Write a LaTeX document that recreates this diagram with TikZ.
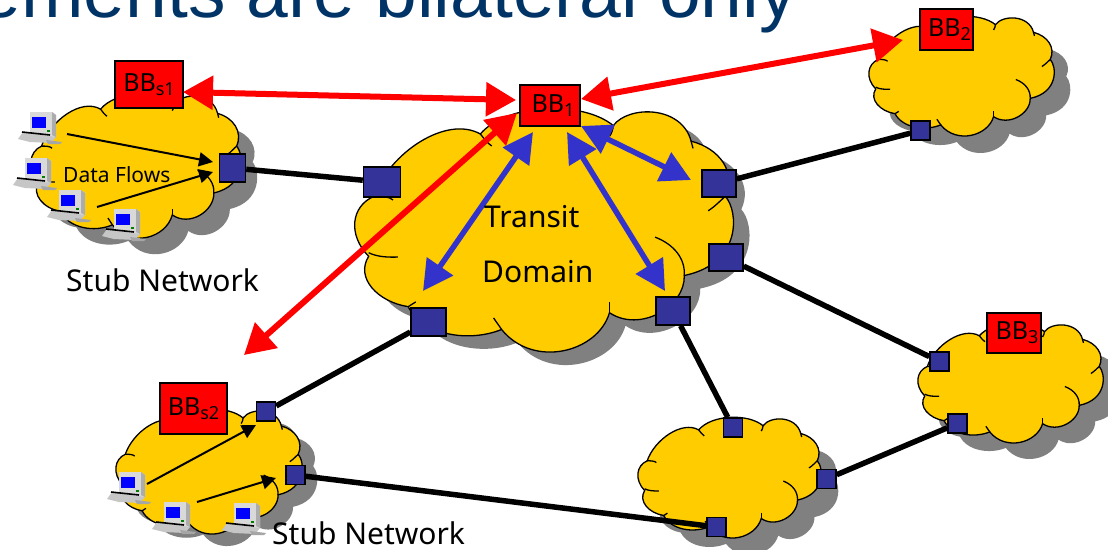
\documentclass[tikz,border=0pt]{standalone}
\usepackage{fontspec}
\setmainfont{Noto Sans}
\newfontfamily\titlefont{Liberation Sans}
\usetikzlibrary{arrows.meta}
\definecolor{cloudyellow}{HTML}{FFCC00}
\definecolor{shadowgray}{HTML}{808080}
\definecolor{portblue}{HTML}{333399}
\definecolor{arrowblue}{HTML}{3333CC}
\definecolor{titleblue}{HTML}{003366}
\newcommand\cloudpath{(3.6,61) .. controls (-2,52) and (-1,40) .. (5,36)
  .. controls (9,18) and (24,2) .. (33,10)
  .. controls (40,-3) and (60,-4) .. (68,6.5)
  .. controls (72,-2) and (86,-2) .. (88.5,13)
  .. controls (96,16) and (100.5,26) .. (97.5,36)
  .. controls (101,42) and (102,64) .. (86.7,69)
  .. controls (87,82) and (75,93) .. (67,84.5)
  .. controls (64,101) and (47,108) .. (38.6,91.5)
  .. controls (30,97) and (18,94) .. (14,82)
  .. controls (6,80) and (0,70) .. (3.6,61) -- cycle}
% x y w h shadow-dx shadow-dy
\newcommand\cloudshape[6]{%
  \begin{scope}[shift={(#1+#5,#2+#6)},x=0.01*#3 pt,y=-0.01*#4 pt]
    \fill[shadowgray] \cloudpath;
  \end{scope}
  \begin{scope}[shift={(#1,#2)},x=0.01*#3 pt,y=-0.01*#4 pt,line width=1.3pt]
    \filldraw[fill=cloudyellow,draw=black] \cloudpath;
    \draw (5,36) .. controls (7,36) and (9,36) .. (10,37.5);
    \draw (33,10) .. controls (34,12) and (35,14) .. (36,15);
    \draw (68,6.5) .. controls (68,8) and (67.5,10) .. (67,11);
    \draw (88.5,13) -- (89,16);
    \draw (97.5,36) .. controls (96,38) and (95,40) .. (93,42);
    \draw (86.7,69) .. controls (87,62) and (84,56) .. (79,53);
    \draw (67,84.5) -- (67,80);
    \draw (38.6,91.5) .. controls (38,90) and (37,88) .. (36.5,86.7);
    \draw (14,82) .. controls (15,81) and (15.5,80.5) .. (16,80);
    \draw (3.6,59.5) .. controls (5.5,61) and (8,61.5) .. (11.3,61.3);
  \end{scope}}
\newcommand\pcicon[2]{%
  \begin{scope}[shift={(#1,#2)},line width=0.3pt]
    \fill[gray!45] (0,27) -- (5,20) -- (32,23) -- (38,25) -- (33,31) -- (12,30) -- cycle;
    \fill[gray!70] (28,28) -- (44,30) -- (42,32) -- (30,32) -- cycle;
    \fill[gray!30] (12,0) -- (34,0) -- (38,3) -- (38,25) -- (12,21) -- cycle;
    \fill[gray!65] (34,0) -- (38,3) -- (38,25) -- (34,23) -- cycle;
    \fill[blue] (14,5) rectangle (28,16);
    \fill[green!50!black] (29,17.5) rectangle (32,20);
    \draw[black,line width=1.6pt] (4,20) -- (32,23);
  \end{scope}}
\tikzset{
  redbox/.style={draw=black,fill=red,line width=1.5pt,inner sep=0pt,font=\fontsize{25}{25}\selectfont},
  port/.style={draw=black,fill=portblue,line width=1.5pt,inner sep=0pt},
  trunk/.style={black,line width=5.5pt},
  redarrow/.style={red,line width=6pt,{Triangle[length=30pt,width=33pt]}-{Triangle[length=30pt,width=33pt]}},
  bluearrow/.style={arrowblue,line width=5.5pt,{Triangle[length=30pt,width=31pt]}-{Triangle[length=30pt,width=31pt]}},
  flow/.style={black,line width=2pt,-{Triangle[length=14pt,width=14pt]}},
  biglabel/.style={inner sep=0pt,font=\fontsize{30}{30}\selectfont}
}
\newcommand\subs[1]{\raisebox{-4pt}{\fontsize{18}{18}\selectfont #1}}
\begin{document}
\begin{tikzpicture}[x=1pt,y=-1pt]
\path[use as bounding box,clip] (0,0) rectangle (1108,549);
\fill[white] (0,0) rectangle (1108,549);
\node[anchor=base east,inner sep=0pt,text=titleblue,font=\titlefont\fontsize{75}{75}\selectfont] (title) at (797,17) {ements are bilateral only};
% clouds
\cloudshape{31}{95}{211}{142}{16}{16}
\cloudshape{355}{110}{380}{240}{16}{13}
\cloudshape{869}{17}{186}{118}{16}{17}
\cloudshape{918}{324}{186}{118}{16}{16}
\cloudshape{638}{418}{184}{119}{17}{17}
\cloudshape{116}{410}{187}{123}{15}{12}
% red boxes
\node[redbox,minimum width=68pt,minimum height=47pt] (bbs1) at (149,84.5) {BB\subs{s1}};
\node[redbox,minimum width=60pt,minimum height=41pt] (bb1) at (550,105.5) {\hspace*{6pt}BB\subs{1}};
\node[redbox,minimum width=53pt,minimum height=41pt] (bb2) at (946.5,29.5) {\hspace*{6pt}BB\subs{2}};
\node[redbox,minimum width=54pt,minimum height=40pt] (bb3) at (1014,333) {\hspace*{6pt}BB\subs{3}};
\node[redbox,minimum width=67pt,minimum height=51pt] (bbs2) at (193.5,408.5) {BB\subs{s2}};
% ports
\node[port,minimum width=37pt,minimum height=30pt] (tleft) at (382,182) {};
\node[port,minimum width=34pt,minimum height=27pt] (tup) at (719,183.5) {};
\node[port,minimum width=34pt,minimum height=27pt] (tmid) at (726,257.5) {};
\node[port,minimum width=34pt,minimum height=28pt] (tlow) at (673,311) {};
\node[port,minimum width=35pt,minimum height=28pt] (tbot) at (428.5,322) {};
\node[port,minimum width=26pt,minimum height=28pt] (s1port) at (232.5,168) {};
\node[port,minimum size=19pt] (p2) at (920.5,130.5) {};
\node[port,minimum size=19pt] (p3a) at (939.5,361.5) {};
\node[port,minimum size=19pt] (p3b) at (957.5,423.5) {};
\node[port,minimum size=19pt] (pmt) at (733,427.5) {};
\node[port,minimum size=19pt] (pmr) at (826.5,479) {};
\node[port,minimum size=19pt] (pmb) at (716.5,527) {};
\node[port,minimum size=19pt] (s2a) at (266,411.5) {};
\node[port,minimum size=19pt] (s2b) at (295.5,475) {};
% trunks
\draw[trunk] (s1port) -- (tleft);
\draw[trunk] (tup) -- (p2);
\draw[trunk] (tmid) -- (p3a);
\draw[trunk] (tlow) -- (pmt);
\draw[trunk] (tbot) -- (s2a);
\draw[trunk] (s2b) -- (pmb);
\draw[trunk] (pmr) -- (p3b);
% computers
\pcicon{18}{112}
\pcicon{13}{158}
\pcicon{47}{190}
\pcicon{102}{209}
\pcicon{107}{472}
\pcicon{152}{502}
\pcicon{222}{503}
% data flows
\coordinate (f1a) at (67,134); \coordinate (f1b) at (213,162);
\coordinate (f2a) at (97,207); \coordinate (f2b) at (213,172);
\coordinate (f3a) at (147,484); \coordinate (f3b) at (256,425);
\coordinate (f4a) at (197,502); \coordinate (f4b) at (276,478);
\draw[flow] (f1a) -- (f1b);
\draw[flow] (f2a) -- (f2b);
\draw[flow] (f3a) -- (f3b);
\draw[flow] (f4a) -- (f4b);
% signalling arrows
\coordinate (r1a) at (183,92); \coordinate (r1b) at (516,100);
\coordinate (r2a) at (581,99); \coordinate (r2b) at (903,40);
\coordinate (r3a) at (517,113); \coordinate (r3b) at (244,355);
\coordinate (b1a) at (533,132); \coordinate (b1b) at (423,291);
\coordinate (b2a) at (567,132); \coordinate (b2b) at (665,291);
\coordinate (b3a) at (581,126); \coordinate (b3b) at (691,180);
\draw[redarrow] (r1a) -- (r1b);
\draw[redarrow] (r2a) -- (r2b);
\draw[redarrow] (r3a) -- (r3b);
\draw[bluearrow] (b1a) -- (b1b);
\draw[bluearrow] (b2a) -- (b2b);
\draw[bluearrow] (b3a) -- (b3b);
% labels
\node[anchor=base west,inner sep=0pt,font=\fontsize{21}{21}\selectfont] (df) at (63,182) {Data Flows};
\node[biglabel,anchor=base west] (stub1) at (66,291) {Stub Network};
\node[biglabel,anchor=base west] (stub2) at (272,544) {Stub Network};
\node[biglabel,anchor=base west] (transit) at (484,227) {Transit};
\node[biglabel,anchor=base west] (domain) at (482,282) {Domain};
\end{tikzpicture}
\end{document}
